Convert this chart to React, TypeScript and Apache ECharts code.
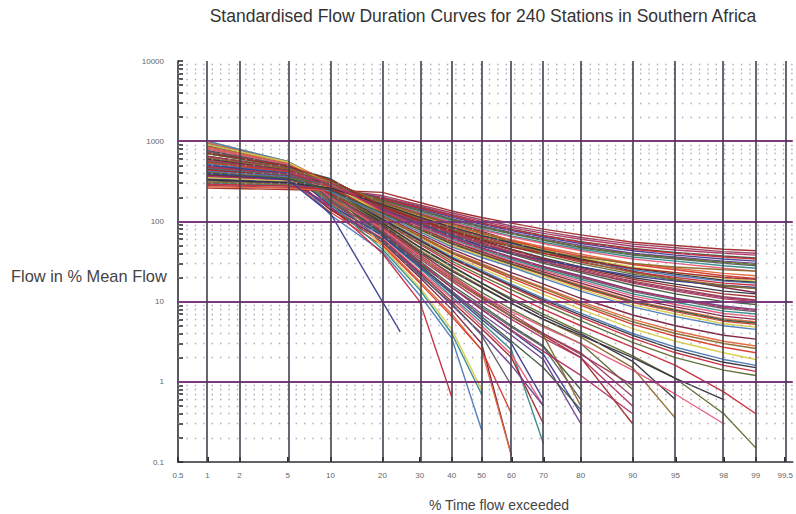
import React, { useEffect, useRef } from 'react';
import * as echarts from 'echarts';

// ---------- data ----------
const exceedance = [1, 5, 10, 20, 30, 40, 50, 60, 70, 80, 90, 95, 98, 99];

const tickPercents = [0.5, 1, 2, 5, 10, 20, 30, 40, 50, 60, 70, 80, 90, 95, 98, 99, 99.5];
const tickLabels = ['0.5', '1', '2', '5', '10', '20', '30', '40', '50', '60', '70', '80', '90', '95', '98', '99', '99.5'];

const flowDecades = [0.1, 1, 10, 100, 1000, 10000];
const decadeLabels = ['0.1', '1', '10', '100', '1000', '10000'];
const minorMultipliers = [2, 3, 4, 5, 6, 7, 8, 9];

// baseflow-dominated curves (end at 99 %)
const flatCurves = [
  [260, 250, 245, 230, 172, 135, 112, 95, 80, 68, 55, 50, 45, 43],
  [280, 265, 250, 210, 160, 128, 105, 88, 75, 63, 52, 47, 42, 40],
  [300, 280, 255, 200, 155, 122, 100, 84, 71, 60, 49, 44, 40, 38],
  [320, 295, 262, 195, 150, 118, 96, 80, 67, 56, 46, 41, 37, 35],
  [340, 305, 270, 190, 145, 113, 92, 77, 64, 53, 43, 38, 34, 32],
  [360, 320, 282, 185, 140, 108, 88, 73, 61, 50, 40, 36, 32, 30],
  [380, 330, 290, 180, 135, 104, 84, 70, 58, 47, 38, 34, 30, 28],
  [300, 285, 245, 178, 130, 100, 80, 66, 55, 45, 36, 32, 28, 26],
  [420, 350, 300, 175, 127, 97, 78, 64, 53, 43, 34, 30, 26, 24],
  [450, 365, 310, 172, 123, 94, 75, 58, 45, 34, 24, 19, 15, 13],
  [270, 260, 240, 170, 120, 91, 72, 59, 48, 39, 30, 26, 22.5, 21],
  [480, 380, 315, 168, 118, 88, 70, 57, 46, 37, 29, 25, 21, 19.5],
  [350, 320, 265, 165, 115, 86, 68, 55, 44, 35, 27, 23, 19.5, 18],
  [520, 400, 320, 162, 112, 84, 66, 53, 42, 33, 25, 21, 18, 17],
  [400, 350, 275, 160, 110, 82, 64, 51, 40, 31, 23.5, 20, 17, 16],
  [560, 420, 325, 158, 107, 80, 62, 49, 38, 29.5, 22, 18.5, 15.5, 14.5],
  [310, 290, 250, 155, 105, 78, 60, 50, 42, 36, 30, 27, 25, 24],
  [600, 440, 330, 152, 102, 76, 58, 45, 35, 27, 20, 16.5, 13.5, 12.5],
  [440, 370, 280, 150, 100, 74, 56, 44, 34, 26, 19, 15.5, 12.5, 11.5],
  [650, 460, 335, 148, 98, 72, 54, 42, 32.5, 25, 18, 14.5, 11.5, 10.5],
  [370, 330, 255, 145, 96, 70, 52, 40.5, 31, 24, 17, 13.5, 10.8, 10],
  [700, 480, 340, 143, 94, 68, 50, 39, 30, 23, 16, 12.5, 10, 9.2],
  [500, 400, 285, 140, 92, 66, 49, 40, 33, 27, 21, 18, 16, 15],
  [330, 300, 240, 138, 90, 64, 47, 36, 27.5, 21, 14, 11, 8.8, 8],
  [750, 500, 320, 136, 88, 62, 46, 35, 26.5, 20, 13.3, 10.5, 8.2, 7.5],
  [460, 380, 270, 134, 86, 60, 44.5, 33.5, 25.5, 19, 12.5, 9.8, 7.6, 7],
  [800, 520, 310, 132, 84, 58, 43, 32, 24.5, 18, 11.8, 9.2, 7.1, 6.5],
  [380, 340, 250, 130, 82, 56, 41.5, 31, 23.5, 17, 11, 8.6, 6.6, 6],
  [850, 540, 300, 128, 80, 54, 40, 30, 22.5, 16, 10.3, 8, 6.1, 5.6],
  [540, 420, 265, 126, 78, 52, 38.5, 29, 21.5, 15, 9.7, 7.5, 5.7, 5.2],
  [900, 550, 290, 124, 76, 50, 37, 28, 20.5, 14.2, 9.1, 7, 5.3, 4.8],
  [420, 360, 235, 122, 74, 48, 35.5, 27, 19.5, 13.5, 8.6, 6.5, 5, 4.5],
  [290, 275, 250, 190, 148, 117, 95, 79, 66, 55, 45, 40, 36, 34],
  [410, 345, 295, 182, 137, 106, 86, 71, 59, 48, 39, 35, 31, 29],
  [620, 450, 315, 170, 121, 92, 73, 55, 42, 32, 23, 19, 16, 14.5],
  [330, 305, 260, 163, 113, 85, 67, 54, 43, 34, 26, 22, 18.5, 17.5],
  [720, 490, 330, 154, 104, 77, 59, 48, 40, 33, 26, 23, 20, 19],
  [470, 390, 280, 146, 97, 71, 53, 41, 31.5, 24, 17.5, 14, 11.2, 10.3],
  [580, 430, 300, 137, 89, 63, 46.5, 35.5, 27, 20.5, 13.8, 10.8, 8.5, 7.8],
  [390, 340, 245, 127, 79, 53, 39, 29.5, 22, 15.5, 10, 7.8, 5.9, 5.4],
];

// intermediate curves (end at 99 % with low flows)
const mediumCurves = [
  [600, 450, 250, 118, 70, 45, 32, 23, 16.5, 11, 6.8, 5, 3.8, 3.4],
  [950, 560, 300, 115, 67, 42, 30, 21, 15, 10, 6, 4.3, 3.2, 2.8],
  [360, 320, 230, 112, 64, 40, 28, 19.5, 13.5, 9, 5.2, 3.7, 2.7, 2.3],
  [700, 480, 240, 110, 62, 38, 26, 18, 12.3, 8, 4.6, 3.2, 2.3, 1.9],
  [1000, 560, 280, 108, 60, 36, 24.5, 16.5, 11, 7.2, 4, 2.7, 1.9, 1.6],
  [450, 380, 220, 105, 57, 34, 23, 15.3, 10, 6.4, 3.5, 2.3, 1.6, 1.35],
  [800, 520, 230, 102, 54, 32, 21, 14, 9.2, 5.8, 3.1, 2, 1.4, 1.2],
  [520, 410, 260, 114, 66, 41, 29, 20.5, 14.5, 9.5, 5.6, 4, 3, 2.6],
  [880, 540, 250, 106, 58, 35, 23.5, 15.8, 10.5, 6.8, 3.8, 2.5, 1.75, 1.5],
];

// flashy curves that cease flowing early
const steepCurves = [
  [300, 280, 230, 100, 52, 30, 19.5, 12.5, 8, 5, 2.7, 1.6, 0.75, 0.4],
  [480, 390, 260, 95, 47, 27, 17, 11, 7, 4.2, 2.1, 1.1, 0.4, 0.15],
  [650, 470, 240, 92, 44, 25, 15.5, 9.5, 6, 3.6, 1.5, 0.35],
  [520, 420, 220, 90, 42, 24, 15, 9.5, 6, 3.8, 2, 1.1, 0.6],
  [550, 430, 200, 85, 38, 20, 11.5, 6.5, 3.8, 2, 0.3],
  [400, 350, 210, 80, 36, 19, 11, 6.5, 4, 2.3, 0.65],
  [700, 480, 190, 78, 34, 18, 10, 6, 3.5, 2, 0.5],
  [600, 450, 180, 75, 32, 16, 9, 5, 2.8, 0.8],
  [850, 530, 200, 72, 30, 15, 8, 4.3, 2.2, 0.4],
  [350, 320, 160, 68, 28, 13.5, 7, 3.8, 1.9, 0.3],
  [500, 400, 170, 70, 30, 15, 8.5, 4.8, 2.7, 0.6],
  [950, 560, 230, 65, 26, 11.5, 5.5, 2.5, 0.17],
  [620, 460, 150, 62, 24, 11, 5, 2.2, 0.5],
  [450, 370, 140, 55, 20, 8, 3, 0.12],
  [800, 520, 170, 52, 18, 7, 2.5, 0.12],
  [380, 340, 130, 50, 17, 6.5, 2.5, 0.4],
  [1000, 560, 250, 48, 15, 4.5, 0.8],
  [550, 430, 120, 42, 12, 3.5, 0.25],
  [700, 480, 150, 40, 10, 0.65],
  [560, 440, 210, 88, 40, 22, 13, 8, 5, 3, 0.8],
  [420, 360, 190, 82, 36, 19, 11, 6.5, 3.8, 0.5],
  [760, 500, 240, 96, 48, 28, 17, 10.5, 6.5, 4, 1.8, 0.6],
  [480, 390, 140, 60, 23, 10, 4.6, 2, 0.3],
  [640, 470, 220, 86, 41, 21, 12, 7, 4, 2.2, 0.9],
  [430, 360, 175, 74, 31, 15, 8, 4.4, 2.4, 1.2, 0.4],
  [900, 540, 210, 70, 29, 13, 6.5, 3.2, 1.5, 0.45],
  [510, 410, 160, 66, 27, 12.5, 6, 3, 0.6],
  [380, 330, 150, 58, 22, 9, 4, 1.6, 0.5],
  [720, 490, 185, 57, 21, 9.5, 3.8, 0.9],
  [560, 440, 165, 45, 14, 4, 0.7],
  [830, 520, 200, 80, 37, 20, 12, 7.5, 4.8, 3, 1.4, 0.7, 0.3],
];

// one short curve ending between grid percentages
const shortCurveExceedance = [1, 5, 10, 20, 24.5];
const shortCurveFlows = [400, 330, 125, 10, 4.2];

// ---------- styling ----------
const palette = [
  '#c8283a', '#7a1f3d', '#3b3f8f', '#33323d', '#d8cf4a', '#2f8a86', '#b03060',
  '#5a6e2e', '#e0663a', '#6a3d8f', '#a02828', '#4a7ab8', '#e85a7a', '#3d5a3d',
  '#8a6a2a', '#d63a2a', '#5c5c66', '#9a3a5a',
];

function probit(p: number): number {
  const a = [-3.969683028665376e1, 2.209460984245205e2, -2.759285104469687e2, 1.38357751867269e2, -3.066479806614716e1, 2.506628277459239];
  const b = [-5.447609879822406e1, 1.615858368580409e2, -1.556989798598866e2, 6.680131188771972e1, -1.328068155288572e1];
  const c = [-7.784894002430293e-3, -3.223964580411365e-1, -2.400758277161838, -2.549671010229583, 4.374664141464968, 2.938163982698783];
  const d = [7.784695709041462e-3, 3.224671290700398e-1, 2.445134137142996, 3.754408661907416];
  const pl = 0.02425;
  if (p < pl) {
    const q = Math.sqrt(-2 * Math.log(p));
    return (((((c[0] * q + c[1]) * q + c[2]) * q + c[3]) * q + c[4]) * q + c[5]) / ((((d[0] * q + d[1]) * q + d[2]) * q + d[3]) * q + 1);
  }
  if (p <= 1 - pl) {
    const q = p - 0.5;
    const r = q * q;
    return ((((((a[0] * r + a[1]) * r + a[2]) * r + a[3]) * r + a[4]) * r + a[5]) * q) / (((((b[0] * r + b[1]) * r + b[2]) * r + b[3]) * r + b[4]) * r + 1);
  }
  const q = Math.sqrt(-2 * Math.log(1 - p));
  return -(((((c[0] * q + c[1]) * q + c[2]) * q + c[3]) * q + c[4]) * q + c[5]) / ((((d[0] * q + d[1]) * q + d[2]) * q + d[3]) * q + 1);
}

const tickZ = tickPercents.map((p) => probit(p / 100));

function buildOption() {
  const curves: [number, number][][] = [];
  const all = [...steepCurves, ...mediumCurves, ...flatCurves];
  all.forEach((c) => curves.push(c.map((v, i) => [probit(exceedance[i] / 100), v] as [number, number])));
  curves.push(shortCurveFlows.map((v, i) => [probit(shortCurveExceedance[i] / 100), v] as [number, number]));

  const minorValues: number[] = [];
  flowDecades.slice(0, -1).forEach((d) => minorMultipliers.forEach((m) => minorValues.push(+(d * m).toPrecision(3))));

  const series: any[] = [
    {
      type: 'line',
      data: [[0, 1]],
      symbol: 'none',
      lineStyle: { width: 0, opacity: 0 },
      silent: true,
      z: 1,
      markLine: {
        silent: true,
        symbol: ['none', 'none'],
        label: { show: false },
        animation: false,
        data: [
          ...minorValues.map((v) => ({ yAxis: v, lineStyle: { color: '#9c9ca4', width: 1.4, type: [1.4, 7], opacity: 0.85 } })),
          ...flowDecades.slice(1, -1).map((v) => ({ yAxis: v, lineStyle: { color: '#7b3a7c', width: 1.8, type: 'solid' } })),
          ...tickZ.slice(1).map((z) => ({ xAxis: z, lineStyle: { color: '#45404e', width: 1.6, type: 'solid' } })),
        ],
      },
    },
  ];
  curves.forEach((data, i) => {
    series.push({
      type: 'line',
      data,
      symbol: 'none',
      showSymbol: false,
      silent: true,
      z: 3,
      lineStyle: { width: 1.4, color: palette[(i * 7) % palette.length], opacity: 0.95 },
    });
  });

  const labelFont = { fontFamily: 'Liberation Sans', fontSize: 8, color: '#666' };

  return {
    animation: false,
    backgroundColor: '#ffffff',
    grid: { left: 178, right: 0, top: 61, bottom: 52, containLabel: false },
    xAxis: {
      type: 'value',
      min: tickZ[0],
      max: 2.64,
      axisLine: { show: true, onZero: false, lineStyle: { color: '#2e2e36', width: 1.6 } },
      axisTick: { show: true, inside: true, length: 5, customValues: tickZ, lineStyle: { color: '#2e2e36', width: 2 } },
      splitLine: { show: false },
      axisLabel: {
        ...labelFont,
        margin: 9,
        customValues: tickZ,
        showMinLabel: true,
        showMaxLabel: true,
        formatter: (val: number) => {
          const idx = tickZ.findIndex((z) => Math.abs(z - val) < 1e-6);
          return idx >= 0 ? tickLabels[idx] : '';
        },
      },
    },
    yAxis: {
      type: 'log',
      logBase: 10,
      min: 0.1,
      max: 10000,
      axisLine: { show: true, onZero: false, lineStyle: { color: '#2e2e36', width: 1.6 } },
      axisTick: {
        show: true,
        inside: true,
        length: 5,
        customValues: [...flowDecades, ...minorValues],
        lineStyle: { color: '#2e2e36', width: 1.6 },
      },
      splitLine: { show: false },
      axisLabel: {
        ...labelFont,
        margin: 14,
        customValues: flowDecades,
        formatter: (val: number) => {
          const idx = flowDecades.findIndex((d) => Math.abs(Math.log10(d) - Math.log10(val)) < 1e-6);
          return idx >= 0 ? decadeLabels[idx] : '';
        },
      },
    },
    graphic: [
      {
        type: 'text',
        style: {
          text: 'Standardised Flow Duration Curves for 240 Stations in Southern Africa',
          x: 483,
          y: 16,
          align: 'center',
          verticalAlign: 'middle',
          fontFamily: 'Liberation Sans',
          fontSize: 17.5,
          fill: '#333',
        },
      },
      {
        type: 'text',
        style: {
          text: 'Flow in % Mean Flow',
          x: 11,
          y: 276,
          align: 'left',
          verticalAlign: 'middle',
          fontFamily: 'Liberation Sans',
          fontSize: 16.4,
          fill: '#444',
        },
      },
      {
        type: 'text',
        style: {
          text: '% Time flow exceeded',
          x: 499,
          y: 505,
          align: 'center',
          verticalAlign: 'middle',
          fontFamily: 'Liberation Sans',
          fontSize: 14,
          fill: '#444',
        },
      },
    ],
    series,
  };
}

export default function App() {
  const ref = useRef<HTMLDivElement>(null);
  useEffect(() => {
    if (!ref.current) return;
    const chart = echarts.init(ref.current, null, { renderer: 'svg' });
    chart.setOption(buildOption() as any);
    return () => chart.dispose();
  }, []);
  return (
    <div
      ref={ref}
      style={{ position: 'absolute', left: 0, top: 0, width: 796, height: 514, background: '#fff' }}
    />
  );
}
